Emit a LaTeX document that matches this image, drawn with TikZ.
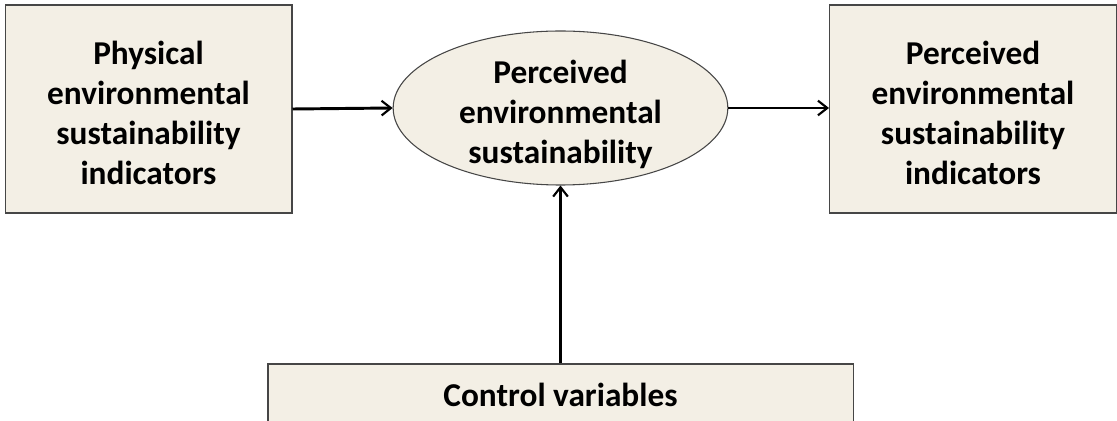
\documentclass[tikz,border=0pt]{standalone}
\usepackage{fontspec}
\setmainfont{Carlito}
\usetikzlibrary{arrows.meta,shapes.geometric,positioning}
\definecolor{boxbeige}{RGB}{243,239,229}
\definecolor{edgegray}{RGB}{70,70,70}
\newcommand{\toppad}[1]{\rule{0pt}{#1}}

\begin{document}
\begin{tikzpicture}[x=0.75pt,y=0.75pt,
    font=\bfseries\fontsize{25}{30}\selectfont,
    varbox/.style={draw=edgegray, line width=1pt, fill=boxbeige, inner sep=0pt,
      minimum width=215pt, minimum height=156pt, align=center},
    latent/.style={ellipse, draw=edgegray, line width=0.8pt, fill=boxbeige,
      inner xsep=0pt, inner ysep=-15pt,
      minimum width=251pt, minimum height=115.5pt, align=center},
    link/.style={line width=2.2pt, -{Straight Barb[length=7pt,width=11pt,line width=1.6pt]}}]
  \useasboundingbox (0,0) rectangle (1117,421);
  \clip (0,0) rectangle (1117,421);
  \node[varbox] (phys) at (148.5,312) {\toppad{24pt}Physical\\environmental\\sustainability\\indicators};
  \node[latent] (perc) at (560.5,313) {\toppad{27pt}Perceived\\environmental\\sustainability};
  \node[varbox] (ind) at (973,312) {\toppad{24pt}Perceived\\environmental\\sustainability\\indicators};
  \node[varbox, minimum width=439pt, minimum height=46.5pt] (ctrl) at (560.5,26) {Control variables};
  \draw[link] (phys.east) -- (perc.west);
  \draw[link] (perc.east) -- (perc.east -| ind.west);
  \draw[link] (ctrl.north) -- (perc.south);
\end{tikzpicture}
\end{document}
